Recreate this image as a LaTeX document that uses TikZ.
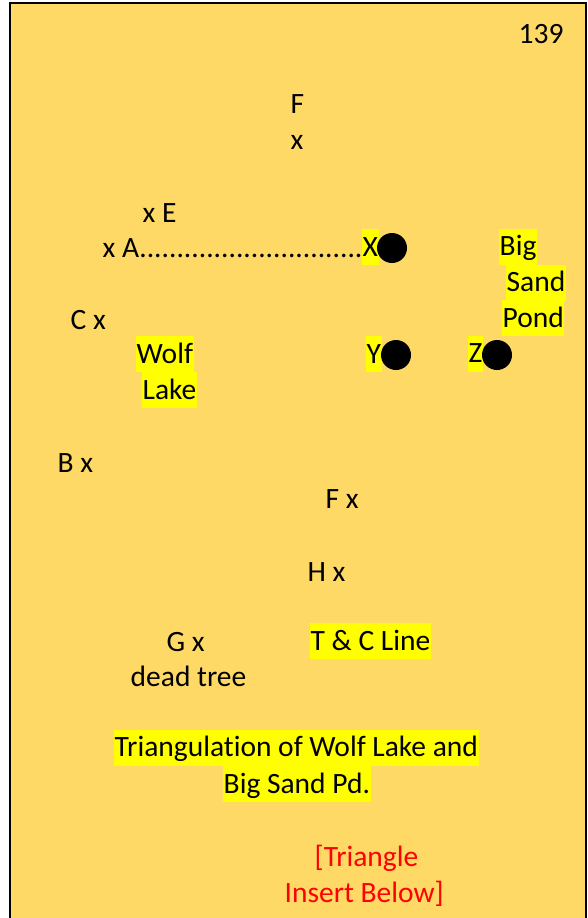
\documentclass[tikz,border=0pt]{standalone}
\usepackage{fontspec}
\setmainfont[Ligatures=NoCommon]{Carlito}
\definecolor{pagegold}{HTML}{FFD966}
\definecolor{hlyellow}{HTML}{FFFF00}
\definecolor{notered}{HTML}{FF0000}
\usetikzlibrary{positioning}

\begin{document}
\begin{tikzpicture}[
  x=1pt, y=-1pt,
  font=\fontsize{29.5}{36}\selectfont,
  lbl/.style={anchor=west, inner xsep=0.5pt, inner ysep=0pt, text height=27pt, text depth=9pt},
  hl/.style={lbl, fill=hlyellow},
  note/.style={lbl, text=notered},
  spot/.style={circle, fill=black, minimum size=30pt, inner sep=0pt},
]
  \useasboundingbox (0,0) rectangle (587,918);
  \clip (0,0) rectangle (587,918);
  % page
  \fill[pagegold] (10,3) rectangle (586,930);
  \draw[line width=2.5pt] (10,930) -- (10,3) -- (586,3) -- (586,930);
  \node[lbl] (page) at (518,34) {139};
  % top points
  \node[lbl] (fTop) at (290,104) {F};
  \node[lbl] (fTopX) at (290,140) {x};
  \node[lbl] (ptE) at (142,213) {x E};
  \node[lbl] (ptA) at (102,248) {x A..............................};
  \node[hl] (lblX) at (362,247) {X};
  \node[spot] (ptX) at (392,248) {};
  \node[hl] (big) at (499,246.5) {Big};
  \node[hl] (sand) at (506,282.5) {Sand};
  \node[hl] (pond) at (502,318) {Pond};
  \node[lbl] (ptC) at (70,320) {C x};
  \node[hl] (wolf) at (136,354) {Wolf};
  \node[hl] (lake) at (142,390) {Lake};
  \node[hl] (lblY) at (366,354) {Y};
  \node[spot] (ptY) at (396,355) {};
  \node[hl] (lblZ) at (468,353.5) {Z};
  \node[spot] (ptZ) at (497,355) {};
  % lower points
  \node[lbl] (ptB) at (57,463) {B x};
  \node[lbl] (ptF) at (325,499) {F x};
  \node[lbl] (ptH) at (307,572) {H x};
  \node[lbl] (ptG) at (166,642) {G x};
  \node[lbl] (tree) at (130,677) {dead tree};
  \node[hl] (tcline) at (310,641) {T \& C Line};
  % caption
  \node[hl] (capA) at (114,747.5) {Triangulation of Wolf Lake and};
  \node[hl] (capB) at (223,784) {Big Sand Pd.};
  \node[note] (insA) at (314,857) {[Triangle};
  \node[note] (insB) at (284,893) {Insert Below]};
\end{tikzpicture}
\end{document}
